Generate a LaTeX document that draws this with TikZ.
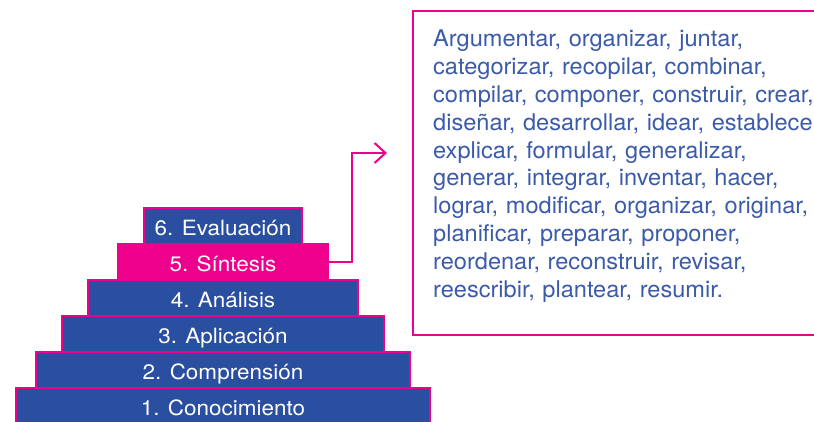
\documentclass[tikz,border=0pt]{standalone}
\usepackage{fontspec}
\setsansfont{TeX Gyre Heros}
\newfontfamily\levelfont[FakeStretch=1.07]{TeX Gyre Heros}
\newfontfamily\verbfont[FakeStretch=1.025]{TeX Gyre Heros}
\usepackage{tikz}
\usetikzlibrary{positioning,arrows.meta}
\definecolor{bloomblue}{RGB}{42,79,160}
\definecolor{bloompink}{RGB}{236,0,140}
\definecolor{verbblue}{RGB}{58,90,170}

\tikzset{
  level/.style={draw=bloompink, line width=1.5pt, fill=bloomblue, text=white,
    minimum height=36, inner sep=0pt, outer sep=0pt, text height=19, text depth=1,
    font=\levelfont\fontsize{21}{25}\selectfont},
  pinkline/.style={draw=bloompink, line width=2pt},
  verbbox/.style={draw=bloompink, line width=2pt, minimum width=440, minimum height=324,
    anchor=north west, inner sep=0pt},
  verbtext/.style={text=verbblue, text width=520, align=left, inner sep=0pt,
    anchor=north west, font=\verbfont\fontsize{23}{27.8}\selectfont},
}

\begin{document}
\begin{tikzpicture}[x=1pt,y=1pt,yscale=-1,xscale=1]
\useasboundingbox (0,0) rectangle (814,421);
\clip (0,0) rectangle (814,421);

%Shape: Pyramid levels
\node[level, minimum width=414] (cono) at (223,406) {1. Conocimiento};
\node[level, minimum width=374, above=0pt of cono] (comp) {2. Comprensión};
\node[level, minimum width=322, above=0pt of comp] (apli) {3. Aplicación};
\node[level, minimum width=270, above=0pt of apli] (anal) {4. Análisis};
\node[level, minimum width=211, fill=bloompink, above=0pt of anal] (sint) {5. Síntesis};
\node[level, minimum width=158, above=0pt of sint] (eval) {6. Evaluación};

%Shape: Rectangle with verbs
\node[verbbox] (box) at (412,10) {};
\node[verbtext] (verbs) at (433,30) {Argumentar, organizar, juntar,\\
categorizar, recopilar, combinar,\\
compilar, componer, construir, crear,\\
diseñar, desarrollar, idear, establecer,\\
explicar, formular, generalizar,\\
generar, integrar, inventar, hacer,\\
lograr, modificar, organizar, originar,\\
planificar, preparar, proponer,\\
reordenar, reconstruir, revisar,\\
reescribir, plantear, resumir.};

%Straight Lines: arrow from Síntesis
\coordinate (arrowtip) at (387,153);
\draw[pinkline, -{Straight Barb[length=11pt,width=20pt]}] (sint.east) -| ([xshift=-35pt]arrowtip) -- (arrowtip);

\end{tikzpicture}
\end{document}
